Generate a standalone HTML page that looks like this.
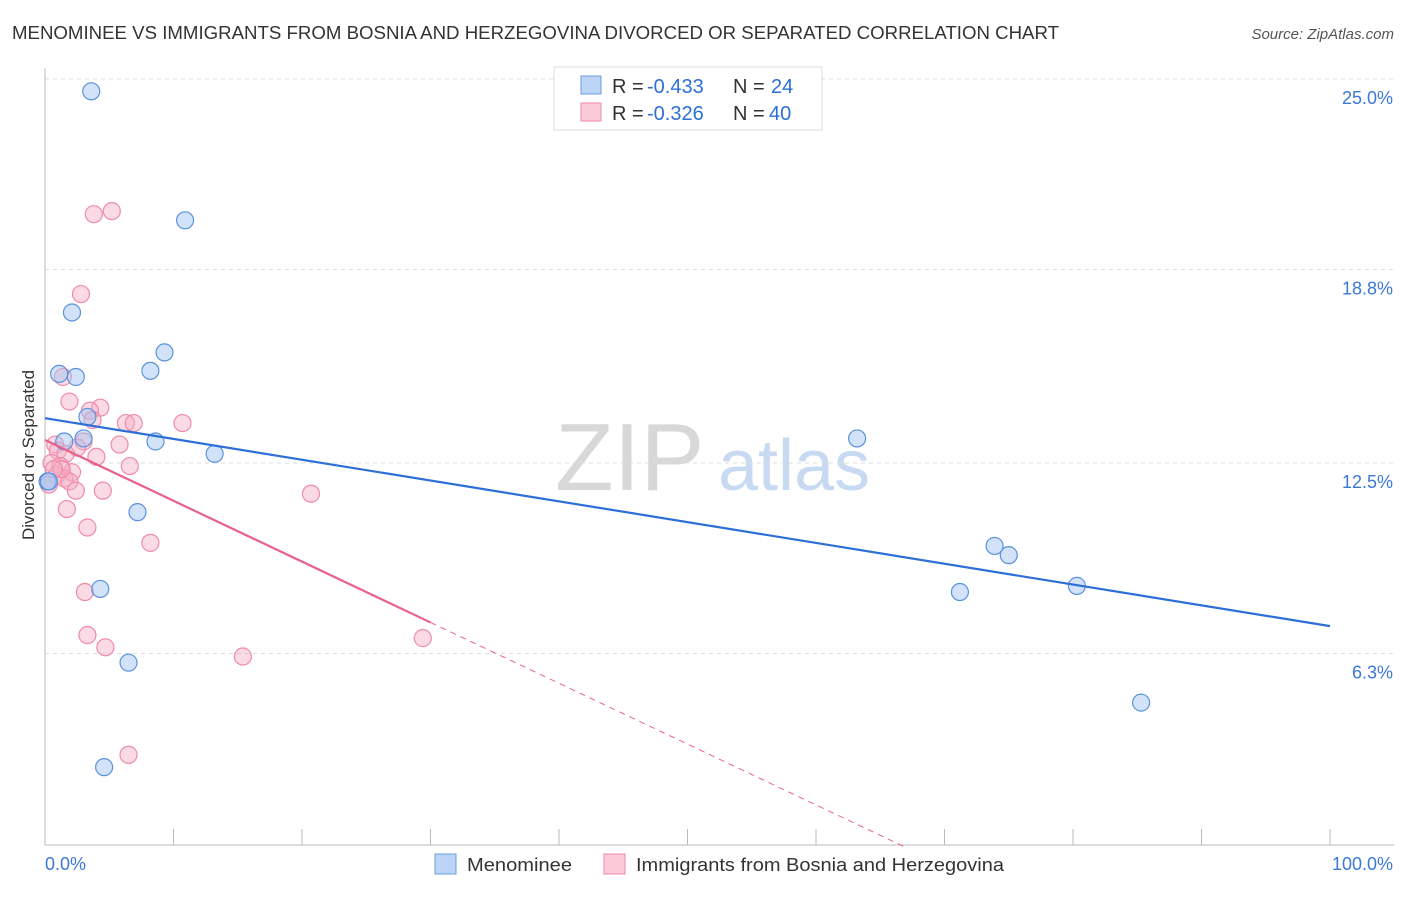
<!DOCTYPE html>
<html><head><meta charset="utf-8"><style>
body{margin:0;background:#fff;font-family:"Liberation Sans",sans-serif;}
svg text{font-family:"Liberation Sans",sans-serif;}
</style></head><body>
<svg id="chart" width="1406" height="892" xmlns="http://www.w3.org/2000/svg">
<text x="12" y="39" font-size="18.6" fill="#333" textLength="1047" lengthAdjust="spacingAndGlyphs">MENOMINEE VS IMMIGRANTS FROM BOSNIA AND HERZEGOVINA DIVORCED OR SEPARATED CORRELATION CHART</text>
<text x="1394" y="39" font-size="15" fill="#555" text-anchor="end" font-style="italic">Source: ZipAtlas.com</text>
<g>
<text x="555" y="490" font-size="96" fill="#d8d8d8" font-family="Liberation Serif">ZIP</text>
<text x="718" y="490" font-size="72" fill="#c8daf2">atlas</text>
</g>
<g id="grid"></g>
<g id="axes"></g>
<g id="marks"></g>
<text transform="translate(34,455) rotate(-90)" font-size="17" fill="#333" text-anchor="middle">Divorced or Separated</text>
<g>
<rect x="554" y="67" width="268" height="63" fill="#fff" stroke="#ddd"/>
<rect x="581" y="76" width="20" height="18" fill="#bcd4f5" stroke="#6a9de0"/>
<rect x="581" y="103" width="20" height="18" fill="#fbc9d8" stroke="#f08aa8"/>
<text x="612" y="93" font-size="20" fill="#333">R =</text>
<text x="647" y="93" font-size="20" fill="#2c6fd6">-0.433</text>
<text x="733" y="93" font-size="20" fill="#333">N =</text>
<text x="771" y="93" font-size="20" fill="#2c6fd6">24</text>
<text x="612" y="120" font-size="20" fill="#333">R =</text>
<text x="647" y="120" font-size="20" fill="#2c6fd6">-0.326</text>
<text x="733" y="120" font-size="20" fill="#333">N =</text>
<text x="769" y="120" font-size="20" fill="#2c6fd6">40</text>
</g>
<g>
<rect x="435" y="854" width="21" height="20" fill="#bcd4f5" stroke="#6a9de0"/>
<text x="467" y="871" font-size="18.5" fill="#333" textLength="105" lengthAdjust="spacingAndGlyphs">Menominee</text>
<rect x="604" y="854" width="21" height="20" fill="#fbc9d8" stroke="#f08aa8"/>
<text x="636" y="871" font-size="18.5" fill="#333" textLength="368" lengthAdjust="spacingAndGlyphs">Immigrants from Bosnia and Herzegovina</text>
</g>
</svg>
<script>
const yTicks=[25.0,18.8,12.5,6.3];
const yTickLabels=["25.0%","18.8%","12.5%","6.3%"];
const xTickLabels=["0.0%","100.0%"];
const blueX=[3.6,10.9,2.1,9.3,8.2,1.1,2.4,3.3,3.0,8.6,1.5,13.2,0.2,7.2,4.3,6.5,4.6,63.2,73.9,75.0,71.2,80.3,85.3,0.3];
const blueY=[24.6,20.4,17.4,16.1,15.5,15.4,15.3,14.0,13.3,13.2,13.2,12.8,11.9,10.9,8.4,6.0,2.6,13.3,9.8,9.5,8.3,8.5,4.7,11.9];
const pinkX=[5.2,3.8,2.8,1.4,1.9,4.3,3.5,3.7,6.3,6.9,10.7,3.0,5.8,2.5,0.8,1.0,1.6,4.0,0.5,1.2,6.6,2.1,0.9,1.5,1.9,2.4,4.5,20.7,1.7,0.3,3.3,8.2,3.1,3.3,4.7,15.4,29.4,6.5,1.3,0.7];
const pinkY=[20.7,20.6,18.0,15.3,14.5,14.3,14.2,13.9,13.8,13.8,13.8,13.2,13.1,13.0,13.1,12.9,12.8,12.7,12.5,12.4,12.4,12.2,12.1,12.0,11.9,11.6,11.6,11.5,11.0,11.8,10.4,9.9,8.3,6.9,6.5,6.2,6.8,3.0,12.3,12.3];
const blueTrend=[13.96,7.19];
const pinkTrend=[13.25,-0.198];
const pinkSolidEnd=30;
const NS="http://www.w3.org/2000/svg";
const X=v=>45+v*12.85, Y=v=>847-v*30.72;
function mk(t,a,p){const e=document.createElementNS(NS,t);for(const k in a)e.setAttribute(k,a[k]);p.appendChild(e);return e;}
const grid=document.getElementById('grid'),axes=document.getElementById('axes'),marks=document.getElementById('marks');
yTicks.forEach((t,i)=>{
 const l=mk('line',{x1:45,x2:1394,y1:Y(t),y2:Y(t),stroke:'#ddd','stroke-dasharray':'4,4'},grid);
 
 
 const tx=mk('text',{x:1393,y:Y(t)+25,'font-size':18,fill:'#3b78d8','text-anchor':'end'},axes);tx.textContent=yTickLabels[i];
 
 
});
mk('line',{x1:45,x2:45,y1:68,y2:845,stroke:'#bbb'},axes);
mk('line',{x1:45,x2:1394,y1:845,y2:845,stroke:'#bbb'},axes);
for(let i=0;i<=10;i++){const t=mk('line',{x1:X(i*10),x2:X(i*10),y1:829,y2:845,stroke:'#bbb'},axes);
 
 }
const xl0=mk('text',{x:45,y:870,'font-size':18,fill:'#3b78d8'},axes);xl0.textContent=xTickLabels[0];


const xl1=mk('text',{x:1393,y:870,'font-size':18,fill:'#3b78d8','text-anchor':'end'},axes);xl1.textContent=xTickLabels[1];


pinkX.forEach((x,i)=>{const c=mk('circle',{cx:X(x),cy:Y(pinkY[i]),r:8.5,fill:'rgba(245,175,198,0.45)',stroke:'#f08aa8','stroke-width':1.2},marks);
 
 });
blueX.forEach((x,i)=>{const c=mk('circle',{cx:X(x),cy:Y(blueY[i]),r:8.5,fill:'rgba(165,198,242,0.5)',stroke:'#5b92de','stroke-width':1.2},marks);
 
 });
const bl=mk('line',{x1:X(0),y1:Y(blueTrend[0]),x2:X(100),y2:Y(blueTrend[1]),stroke:'#2c6fd6','stroke-width':2.2},marks);


const pe=x=>pinkTrend[0]+pinkTrend[1]*x;
const pl=mk('line',{x1:X(0),y1:Y(pe(0)),x2:X(pinkSolidEnd),y2:Y(pe(pinkSolidEnd)),stroke:'#e8638c','stroke-width':2.2},marks);


const zx=-pinkTrend[0]/pinkTrend[1];
const pd=mk('line',{x1:X(pinkSolidEnd),y1:Y(pe(pinkSolidEnd)),x2:X(zx),y2:Y(0),stroke:'#e8638c','stroke-width':1,'stroke-dasharray':'6,5'},marks);


</script>
</body></html>
